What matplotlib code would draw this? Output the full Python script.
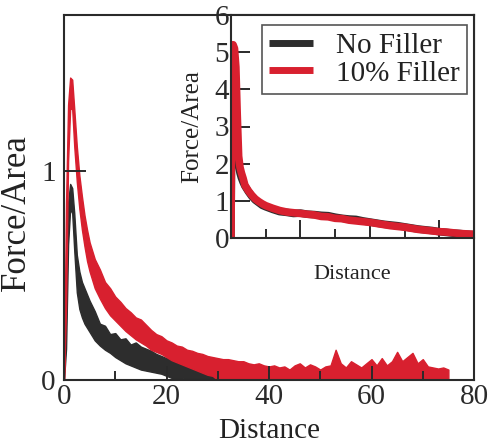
import matplotlib
matplotlib.use('Agg')
import matplotlib.pyplot as plt

plt.rcParams['font.family'] = ['Liberation Serif', 'DejaVu Serif']
plt.rcParams['text.color'] = '#222222'
plt.rcParams['axes.labelcolor'] = '#222222'
plt.rcParams['xtick.color'] = '#2a2a2a'
plt.rcParams['ytick.color'] = '#2a2a2a'

RED = '#d8202f'
BLACK = '#2d2d2d'

dist_main = [0, 0.4, 0.8, 1.2, 1.6, 2.0, 2.5, 3.0, 3.5, 4.0, 4.5, 5] + list(range(6, 76))

red_hi = [0.02, 0.85, 1.32, 1.45, 1.44, 1.30, 1.12, 0.98, 0.88, 0.79, 0.72, 0.66,
          0.58, 0.53, 0.47, 0.44, 0.40, 0.375, 0.345, 0.325, 0.30, 0.29,
          0.265, 0.24, 0.22, 0.21, 0.19, 0.18, 0.165, 0.16, 0.145, 0.14,
          0.13, 0.125, 0.115, 0.11, 0.105, 0.10, 0.10, 0.095, 0.09, 0.09,
          0.08, 0.075, 0.08, 0.07, 0.065, 0.07, 0.06, 0.065, 0.05, 0.07,
          0.08, 0.06, 0.075, 0.065, 0.05, 0.065, 0.07, 0.145, 0.08, 0.06,
          0.09, 0.075, 0.06, 0.08, 0.10, 0.07, 0.105, 0.07, 0.09, 0.135,
          0.09, 0.11, 0.13, 0.08, 0.10, 0.065, 0.06, 0.055, 0.06, 0.05]
red_lo = [0.0, 0.35, 1.05, 1.30, 1.30, 1.12, 0.95, 0.82, 0.72, 0.64, 0.57, 0.52,
          0.44, 0.39, 0.345, 0.31, 0.285, 0.26, 0.235, 0.215, 0.195, 0.18,
          0.165, 0.145, 0.135, 0.125, 0.11, 0.095, 0.085, 0.075, 0.065, 0.055,
          0.045, 0.035, 0.025, 0.02, 0, 0, 0, 0, 0, 0,
          0, 0, 0, 0, 0, 0, 0, 0, 0, 0,
          0, 0, 0, 0, 0, 0, 0, 0, 0, 0,
          0, 0, 0, 0, 0, 0, 0, 0, 0, 0,
          0, 0, 0, 0, 0, 0, 0, 0, 0, 0]

black_hi = [0.0, 0.5, 0.85, 0.94, 0.92, 0.80, 0.60, 0.52, 0.47, 0.44, 0.41, 0.38,
            0.33, 0.27, 0.26, 0.22, 0.225, 0.195, 0.20, 0.17, 0.18, 0.16,
            0.15, 0.14, 0.125, 0.115, 0.105, 0.10, 0.09, 0.085, 0.08, 0.065,
            0.05, 0.045, 0.035, 0.03, 0.025, 0.02, 0.015, 0.02, 0.09, 0.01]
black_lo = [0.0, 0.15, 0.65, 0.82, 0.80, 0.62, 0.42, 0.34, 0.30, 0.27, 0.25, 0.23,
            0.19, 0.165, 0.145, 0.13, 0.11, 0.095, 0.08, 0.07, 0.06, 0.05,
            0.045, 0.04, 0.035, 0.03, 0.02, 0.01, 0.01, 0.01, 0, 0,
            0, 0, 0, 0, 0, 0, 0, 0, 0, 0]

# inset: same runs on a wider force scale
dist_inset = [0, 0.3, 0.6, 1.0, 1.4, 1.8, 2.2, 2.6, 3.0, 3.5, 4, 5, 6, 7, 8, 9, 10] + list(range(12, 76, 2))
red_inset = [0.0, 5.15, 5.2, 5.1, 4.6, 3.3, 2.2, 1.9, 1.75, 1.6, 1.42, 1.27, 1.15, 1.05, 0.98, 0.92, 0.87,
             0.80, 0.74, 0.70, 0.68, 0.66, 0.64, 0.62, 0.58, 0.57, 0.53, 0.52, 0.48, 0.46, 0.44,
             0.42, 0.39, 0.36, 0.33, 0.31, 0.29, 0.26, 0.23, 0.21, 0.19, 0.17, 0.16, 0.14, 0.12,
             0.11, 0.10, 0.09, 0.08]
black_inset = [0.0, 4.9, 5.0, 4.6, 3.6, 2.4, 1.95, 1.75, 1.62, 1.5, 1.40, 1.25, 1.12, 1.02, 0.95, 0.88, 0.84,
               0.77, 0.71, 0.69, 0.66, 0.67, 0.64, 0.63, 0.61, 0.60, 0.56, 0.53, 0.51, 0.50, 0.46,
               0.43, 0.40, 0.37, 0.35, 0.33, 0.30, 0.27, 0.24, 0.22, 0.20, 0.17, 0.15, 0.13, 0.12,
               0.10, 0.09, 0.08, 0.07]

fig = plt.figure(figsize=(4.91, 4.47), dpi=100)
ax = fig.add_axes([64/491, 67/447, 410/491, 365/447])

nb = len(black_hi)
ax.fill_between(dist_main[:nb], black_lo, black_hi, color=BLACK, lw=1.0)
ax.fill_between(dist_main, red_lo, red_hi, color=RED, lw=1.0)

ax.set_xlim(0, 80)
ax.set_ylim(0, 1.75)
ax.set_xticks([0, 20, 40, 60, 80])
ax.set_xticks([10, 30, 50, 70], minor=True)
ax.set_yticks([0, 1])
ax.tick_params(which='both', direction='in', top=False, right=False, width=1.4)
ax.tick_params(axis='x', which='major', length=10, pad=3, labelsize=21)
ax.tick_params(axis='x', which='minor', length=6.5)
ax.tick_params(axis='y', which='major', length=16, pad=6, labelsize=21)
for sp in ax.spines.values():
    sp.set_linewidth(1.5)
    sp.set_color('#2a2a2a')
ax.set_xlabel('Distance', fontsize=21)
ax.set_ylabel('Force/Area', fontsize=25)
ax.xaxis.set_label_coords(0.5, -0.103)
ax.yaxis.set_label_coords(-0.076, 0.46)

# inset
ins = fig.add_axes([231/491, 209/447, 243/491, 223/447])
ins.plot(dist_inset, black_inset, color=BLACK, lw=5.5, label='No Filler', solid_capstyle='butt')
ins.plot(dist_inset, red_inset, color=RED, lw=5.5, label='10% Filler', solid_capstyle='butt')
ins.set_xlim(0, 70)
ins.set_ylim(0, 6)
ins.set_xticks([20, 40, 60])
ins.set_xticks([10, 30, 50], minor=True)
ins.set_yticks(range(7))
ins.tick_params(which='both', direction='in', top=False, right=False, width=1.4)
ins.tick_params(axis='x', which='major', length=13, labelbottom=False)
ins.tick_params(axis='x', which='minor', length=6.5)
ins.tick_params(axis='y', which='major', length=14, pad=1.5, labelsize=21)
for sp in ins.spines.values():
    sp.set_linewidth(1.5)
    sp.set_color('#2a2a2a')
ins.set_xlabel('Distance', fontsize=16)
ins.set_ylabel('Force/Area', fontsize=18)
ins.xaxis.set_label_coords(0.5, -0.12)
ins.yaxis.set_label_coords(-0.115, 0.5)

leg = ins.legend(loc='upper right', bbox_to_anchor=(0.971, 0.955), borderaxespad=0,
                 fontsize=21, frameon=True, fancybox=False, handlelength=1.5,
                 handletextpad=0.8, borderpad=0.25, labelspacing=0.05)
leg.get_frame().set_edgecolor('#2a2a2a')
leg.get_frame().set_linewidth(1.2)
for line in leg.get_lines():
    line.set_linewidth(5)

fig.savefig('out.png', dpi=100)
